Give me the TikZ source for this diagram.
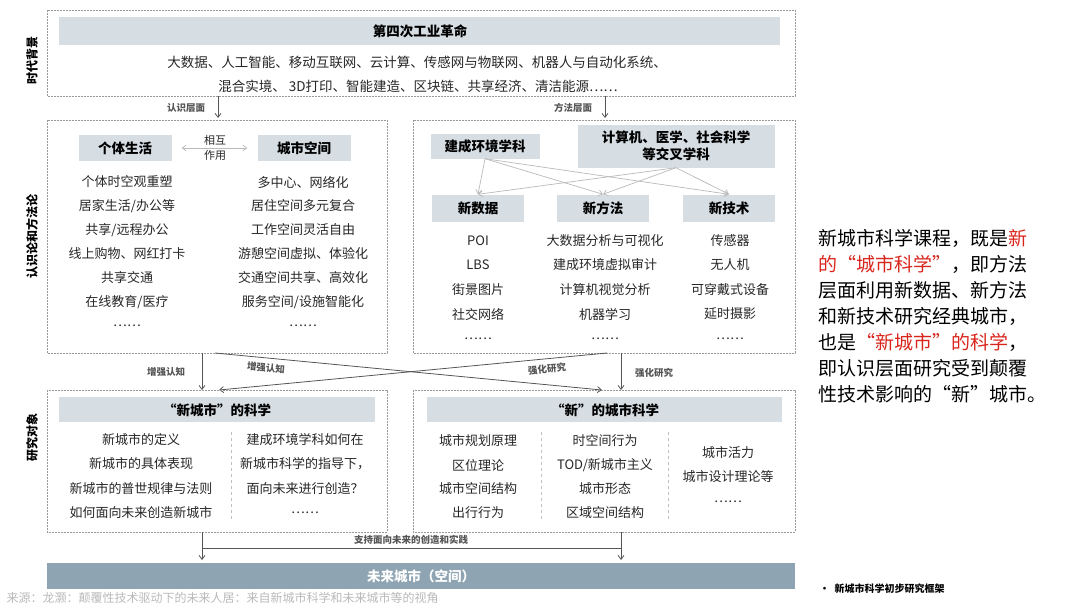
\documentclass[tikz,border=0pt]{standalone}
\usepackage{fontspec}
\setmainfont{Noto Sans CJK SC}
\usetikzlibrary{arrows.meta}
\definecolor{bar}{HTML}{D6DEE4}
\definecolor{dbar}{HTML}{8EA4B2}
\definecolor{lg}{HTML}{555555}
\definecolor{rd}{HTML}{D9261C}
\tikzset{
 frame/.style={draw=gray!80,dashed,dash pattern=on 2pt off 1pt,line width=0.6pt},
 barbox/.style={fill=bar,inner sep=0},
 tt/.style={font=\fontsize{13}{15}\selectfont,text=black!85},
 hd/.style={font=\bfseries\fontsize{13.5}{16}\selectfont},
 sm/.style={font=\bfseries\fontsize{9.5}{11}\selectfont,text=lg},
 side/.style={font=\bfseries\fontsize{12}{14}\selectfont,rotate=90},
 arr/.style={draw=lg,line width=0.8pt,-{Straight Barb[length=4pt,width=6pt]}},
 garr/.style={draw=gray!55,line width=0.7pt,-{Straight Barb[length=4pt,width=6pt]}},
 div/.style={draw=gray!50,dashed,dash pattern=on 3pt off 3pt,line width=0.5pt},
}
\begin{document}
\begin{tikzpicture}[x=1pt,y=-1pt]
\useasboundingbox (0,0) rectangle (1080,608);
% top
\draw[frame] (47,10) rectangle (795,96);
\fill[bar] (59,17) rectangle (780,45);
\node[hd] (t0) at (420,31) {第四次工业革命};
\node[tt,font=\fontsize{13.5}{15}\selectfont] (t1) at (417,62) {大数据、人工智能、移动互联网、云计算、传感网与物联网、机器人与自动化系统、};
\node[tt,font=\fontsize{13.5}{15}\selectfont] (t2) at (418,86) {混合实境、 3D打印、智能建造、区块链、共享经济、清洁能源……};
\node[side] (s1) at (32,60) {时代背景};
\node[side] (s2) at (32,236) {认识论和方法论};
\node[side] (s3) at (32,437) {研究对象};
% level arrows
\coordinate (a1) at (218,96); \coordinate (a1e) at (218,118);
\coordinate (a2) at (605,96); \coordinate (a2e) at (605,118);
\draw[arr] (a1) -- (a1e);
\draw[arr] (a2) -- (a2e);
\node[sm] (l1) at (186,108) {认识层面};
\node[sm] (l2) at (573,108) {方法层面};
% middle left
\draw[frame] (47,120) rectangle (387,353);
\node[barbox,minimum width=93pt,minimum height=26pt,hd] (gt) at (125,148) {个体生活};
\node[barbox,minimum width=93pt,minimum height=26pt,hd] (cs) at (304,148) {城市空间};
\draw[garr,{Straight Barb[length=4pt,width=6pt]}-{Straight Barb[length=4pt,width=6pt]},shorten <=10pt,shorten >=10pt] (gt.east) -- (cs.west);
\node[tt,font=\fontsize{11}{12}\selectfont] (hx) at (215,149) {\begin{tabular}{c}相互\\[2pt]作用\end{tabular}};
\foreach \t [count=\i] in {个体时空观重塑,居家生活/办公等,共享/远程办公,线上购物、网红打卡,共享交通,在线教育/医疗,……}
  \node[tt] (L\i) at (127,158+\i*24) {\t};
\foreach \t [count=\i] in {多中心、网络化,居住空间多元复合,工作空间灵活自由,游憩空间虚拟、体验化,交通空间共享、高效化,服务空间/设施智能化,……}
  \node[tt] (R\i) at (303,158+\i*24) {\t};
% middle right
\draw[frame] (413,120) rectangle (795,353);
\node[barbox,minimum width=109pt,minimum height=25pt,hd] (jc) at (485,146) {建成环境学科};
\node[barbox,minimum width=197pt,minimum height=43pt,hd,align=center,font=\bfseries\fontsize{13.5}{17}\selectfont] (js) at (676,146) {计算机、医学、社会科学\\等交叉学科};
\node[barbox,minimum width=92pt,minimum height=27pt,hd] (n1) at (478,208) {新数据};
\node[barbox,minimum width=92pt,minimum height=27pt,hd] (n2) at (603,208) {新方法};
\node[barbox,minimum width=92pt,minimum height=27pt,hd] (n3) at (729,208) {新技术};
\foreach \s in {jc,js} \foreach \d in {n1,n2,n3} \draw[garr] (\s.south) -- (\d.north);
\foreach \t [count=\i] in {POI,LBS,街景图片,社交网络,……}
  \node[tt] (P\i) at (478,216+\i*24.5) {\t};
\foreach \t [count=\i] in {大数据分析与可视化,建成环境虚拟审计,计算机视觉分析,机器学习,……}
  \node[tt] (Q\i) at (605,216+\i*24.5) {\t};
\foreach \t [count=\i] in {传感器,无人机,可穿戴式设备,延时摄影,……}
  \node[tt] (S\i) at (730,216+\i*24.5) {\t};
% cross arrows
\coordinate (c1) at (202,353); \coordinate (c1e) at (202,390);
\coordinate (c2) at (621,353); \coordinate (c2e) at (621,390);
\coordinate (x1) at (215,353); \coordinate (x1e) at (602,390);
\coordinate (x2) at (607,353); \coordinate (x2e) at (219,390);
\draw[arr] (c1) -- (c1e);
\draw[arr] (c2) -- (c2e);
\draw[arr] (x1) -- (x1e);
\draw[arr] (x2) -- (x2e);
\node[sm] (z1) at (166,372) {增强认知};
\node[sm,rotate=-5] (z2) at (266,368) {增强认知};
\node[sm,rotate=5] (z3) at (547,369) {强化研究};
\node[sm] (z4) at (654,373) {强化研究};
% bottom boxes
\draw[frame] (47,390) rectangle (387,532);
\fill[bar] (59,397) rectangle (375,422);
\node[hd] (bt1) at (217,410) {“新城市”的科学};
\draw[div] (231,432) -- (231,522);
\foreach \t [count=\i] in {新城市的定义,新城市的具体表现,新城市的普世规律与法则,如何面向未来创造新城市}
  \node[tt] (B\i) at (141,415+\i*24.5) {\t};
\foreach \t [count=\i] in {建成环境学科如何在,新城市科学的指导下，,面向未来进行创造？,……}
  \node[tt] (C\i) at (305,415+\i*24.5) {\t};
\draw[frame] (413,390) rectangle (795,532);
\fill[bar] (427,397) rectangle (782,422);
\node[hd] (bt2) at (605,410) {“新”的城市科学};
\draw[div] (541,432) -- (541,522);
\draw[div] (668,432) -- (668,522);
\foreach \t [count=\i] in {城市规划原理,区位理论,城市空间结构,出行行为}
  \node[tt] (D\i) at (478,417+\i*24) {\t};
\foreach \t [count=\i] in {时空间行为,TOD/新城市主义,城市形态,区域空间结构}
  \node[tt] (E\i) at (605,417+\i*24) {\t};
\foreach \t [count=\i] in {城市活力,城市设计理论等,……}
  \node[tt] (F\i) at (728,428+\i*24.5) {\t};
% bottom
\coordinate (b1) at (202,532); \coordinate (b1e) at (202,560);
\coordinate (b2) at (621,532); \coordinate (b2e) at (621,560);
\coordinate (h1) at (202,548); \coordinate (h2) at (621,548);
\draw[arr] (b1) -- (b1e);
\draw[arr] (b2) -- (b2e);
\draw[draw=lg,line width=0.8pt] (h1) -- (h2);
\node[sm] (sp) at (411,540) {支持面向未来的创造和实践};
\fill[dbar] (47,563) rectangle (795,589);
\node[hd,text=white] (wl) at (421,576) {未来城市（空间）};
\node[anchor=west,font=\fontsize{12}{13}\selectfont,text=gray!55] (src) at (3,598) {来源：龙灏：颠覆性技术驱动下的未来人居：来自新城市科学和未来城市等的视角};
% right text
\node[anchor=north west,align=left,font=\fontsize{19}{26}\selectfont,inner sep=0] (rt) at (818,229) {新城市科学课程，既是\textcolor{rd}{新}\\
\textcolor{rd}{的“城市科学”}，即方法\\
层面利用新数据、新方法\\
和新技术研究经典城市，\\
也是\textcolor{rd}{“新城市”的科学}，\\
即认识层面研究受到颠覆\\
性技术影响的“新”城市。};
\node[anchor=west,font=\bfseries\fontsize{10}{12}\selectfont] (cap) at (816,589) {•\enspace 新城市科学初步研究框架};
\end{tikzpicture}
\end{document}
